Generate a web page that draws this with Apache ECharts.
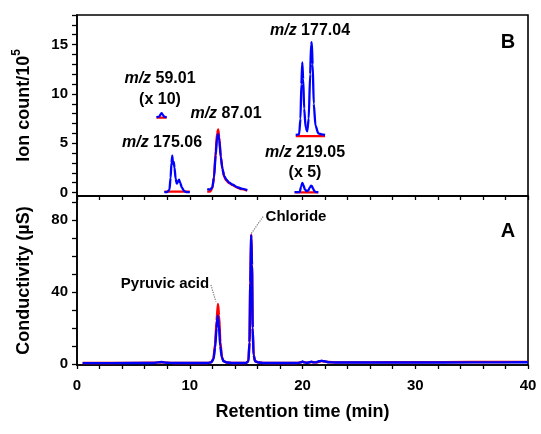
<!DOCTYPE html>
<html><head><meta charset="utf-8">
<script src="https://cdn.jsdelivr.net/npm/echarts@6/dist/echarts.min.js"></script>
<style>html,body{margin:0;padding:0;background:#fff}#c{width:541px;height:434px}</style>
</head><body><div id="c"></div>
<script>
// ---- Data ----
// Panel A: conductivity, blue trace
const condBlueT = [0.5, 3, 6.8, 7.2, 7.5, 7.7, 8.0, 8.6, 11.6, 11.9, 12.1, 12.25, 12.38, 12.48, 12.58, 12.7, 12.85, 13.0, 13.3, 13.8, 15.0, 15.2, 15.3, 15.37, 15.45, 15.52, 15.58, 15.66, 15.8, 16.1, 16.6, 19.6, 19.85, 20.0, 20.15, 20.4, 20.65, 20.8, 20.95, 21.2, 21.45, 21.7, 21.95, 22.3, 23, 26, 30, 35, 40];
const condBlueV = [0.5, 0.5, 0.6, 0.9, 1.1, 0.9, 0.7, 0.6, 0.6, 0.9, 2.5, 9, 20, 26.8, 22, 10, 3.5, 1.5, 0.8, 0.6, 0.6, 1.5, 12, 45, 71.5, 55, 20, 5, 1.5, 0.8, 0.6, 0.6, 0.9, 1.4, 0.9, 0.7, 1.0, 1.3, 0.9, 0.9, 1.5, 1.8, 1.5, 1.0, 0.8, 0.8, 0.8, 0.9, 1.0];
// Panel A: conductivity, red trace
const condRedT = [0.5, 3, 6.8, 7.2, 7.5, 7.7, 8.0, 8.6, 11.6, 11.9, 12.1, 12.25, 12.38, 12.5, 12.6, 12.72, 12.85, 13.0, 13.3, 13.8, 15.0, 15.2, 15.3, 15.37, 15.45, 15.52, 15.58, 15.66, 15.8, 16.1, 16.6, 19.6, 20.0, 20.4, 20.8, 21.2, 21.7, 22.3, 23, 26, 30, 35, 40];
const condRedV = [0.6, 0.6, 0.7, 0.9, 1.0, 0.9, 0.7, 0.6, 0.6, 1.0, 3.0, 11, 24, 33.3, 27, 12, 4, 1.6, 0.8, 0.6, 0.6, 1.5, 12, 46, 72, 55, 20, 5, 1.5, 0.8, 0.6, 0.6, 1.2, 0.7, 1.1, 0.9, 1.6, 1.1, 0.9, 0.9, 1.0, 1.1, 1.2];

// Panel B: extracted ion traces (ion count / 1e5, shown offset/scaled as in reference)
const mz59T = [7.05, 7.3, 7.42, 7.5, 7.6, 7.75, 7.95];
const mz59Blue = [7.65, 7.7, 7.95, 8.05, 7.9, 7.68, 7.65];
const mz59RedT = [7.05, 7.95];
const mz59Red = [7.6, 7.6];

const mz175T = [7.75, 8.0, 8.2, 8.3, 8.38, 8.45, 8.52, 8.58, 8.65, 8.75, 8.85, 8.95, 9.05, 9.15, 9.3, 9.5, 9.7, 10.0];
const mz175Blue = [0.05, 0.05, 0.3, 1.5, 3.0, 3.75, 2.9, 3.1, 2.5, 1.4, 0.9, 1.1, 1.3, 1.0, 0.5, 0.15, 0.05, 0.05];
const mz175RedT = [7.75, 10.0];
const mz175Red = [0.1, 0.1];

const mz87T = [11.55, 11.8, 12.0, 12.15, 12.3, 12.42, 12.52, 12.62, 12.75, 12.9, 13.05, 13.25, 13.5, 13.8, 14.2, 14.6, 15.1];
const mz87Blue = [0.35, 0.3, 0.5, 1.5, 3.8, 5.5, 5.95, 5.3, 3.6, 2.4, 1.7, 1.3, 1.0, 0.8, 0.55, 0.4, 0.25];
const mz87Red = [0.1, 0.1, 0.4, 1.6, 4.2, 6.0, 6.4, 5.6, 3.7, 2.4, 1.6, 1.2, 0.95, 0.75, 0.5, 0.35, 0.2];

const mz177T = [19.4, 19.7, 19.82, 19.9, 19.98, 20.06, 20.15, 20.28, 20.42, 20.55, 20.68, 20.76, 20.82, 20.9, 21.0, 21.15, 21.4, 21.7, 22.0];
const mz177Blue = [5.85, 5.9, 7.5, 11, 13.2, 11.5, 8.5, 6.6, 6.2, 7.5, 12, 15.0, 15.25, 13, 9, 6.8, 6.0, 5.9, 5.85];
const mz177RedT = [19.4, 22.0];
const mz177Red = [5.72, 5.72];

const mz219T = [19.3, 19.75, 19.88, 19.98, 20.08, 20.2, 20.35, 20.5, 20.65, 20.75, 20.82, 20.92, 21.05, 21.2, 21.4];
const mz219Blue = [0.05, 0.05, 0.6, 0.98, 0.75, 0.35, 0.15, 0.2, 0.5, 0.7, 0.68, 0.45, 0.15, 0.05, 0.05];
const mz219RedT = [19.3, 21.4];
const mz219Red = [0.02, 0.02];

// Axis ticks / labels
const xTicks = [0,2,4,6,8,10,12,14,16,18,20,22,24,26,28,30,32,34,36,38,40];
const xLabels = [0,10,20,30,40];
const ionTicks = [0,1,2,3,4,5,6,7,8,9,10,11,12,13,14,15,16,17,18];
const ionLabels = [0,5,10,15];
const condTicks = [0,10,20,30,40,50,60,70,80,90];
const condLabels = [0,40,80];

// ---- Chart ----
const FONT = 'Liberation Sans, Arial, sans-serif';
const zip = (t, v) => t.map((x, i) => [x, v[i]]);
const BLUE = '#0000ff', RED = '#ff0000';

function line(data, color, xi, yi, w, extra) {
  return Object.assign({
    type: 'line', data: data, xAxisIndex: xi, yAxisIndex: yi,
    showSymbol: false, symbol: 'none', smooth: 0.25, smoothMonotone: 'x',
    lineStyle: { color: color, width: w }, itemStyle: { color: color },
    silent: true, animation: false
  }, extra || {});
}

function xAxis(gi, showLabels) {
  return {
    type: 'value', gridIndex: gi, min: 0, max: 40,
    axisLine: { show: true, onZero: false, lineStyle: { color: '#000', width: 1.6 } },
    axisTick: { show: true, inside: false, length: 4, customValues: xTicks, lineStyle: { color: '#000', width: 1.3 } },
    axisLabel: { show: showLabels, customValues: xLabels, margin: 13, color: '#000', fontFamily: FONT, fontWeight: 'bold', fontSize: 15 },
    splitLine: { show: false },
    name: showLabels ? 'Retention time (min)' : '',
    nameLocation: 'middle', nameGap: 38,
    nameTextStyle: { color: '#000', fontFamily: FONT, fontWeight: 'bold', fontSize: 18 }
  };
}
function yAxis(gi, min, max, ticks, labels, name, rich) {
  return {
    type: 'value', gridIndex: gi, min: min, max: max,
    axisLine: { show: true, onZero: false, lineStyle: { color: '#000', width: 1.6 } },
    axisTick: { show: true, inside: false, length: 5, customValues: ticks, lineStyle: { color: '#000', width: 1.3 } },
    axisLabel: { customValues: labels, margin: 9, color: '#000', fontFamily: FONT, fontWeight: 'bold', fontSize: 15 },
    splitLine: { show: false },
    name: name, nameLocation: 'middle', nameGap: 44,
    nameTextStyle: Object.assign({ color: '#000', fontFamily: FONT, fontWeight: 'bold', fontSize: 18 }, rich ? { rich: rich } : {})
  };
}

function txt(x, y, text, size, rich) {
  const st = { x: x, y: y, text: text, fill: '#000', font: 'bold ' + size + 'px ' + FONT, align: 'center', verticalAlign: 'middle' };
  if (rich) st.rich = rich;
  return { type: 'text', style: st, silent: true, z: 100 };
}
const mzRich = {
  i: { fontStyle: 'italic', fontWeight: 'bold', fontSize: 16, fontFamily: FONT, fill: '#000' },
  n: { fontWeight: 'bold', fontSize: 16, fontFamily: FONT, fill: '#000' }
};

const chart = echarts.init(document.getElementById('c'), null, { renderer: 'canvas' });
chart.setOption({
  animation: false,
  backgroundColor: '#fff',
  grid: [
    { left: 77, top: 15, width: 451, height: 181, show: true, borderColor: '#000', borderWidth: 1.6, backgroundColor: 'transparent' },
    { left: 77, top: 196, width: 451, height: 169, show: true, borderColor: '#000', borderWidth: 1.6, backgroundColor: 'transparent' }
  ],
  xAxis: [xAxis(0, false), xAxis(1, true)],
  yAxis: [
    yAxis(0, -0.35, 18, ionTicks, ionLabels, '{a|Ion count/10}{s|5}', {
      a: { fontFamily: FONT, fontWeight: 'bold', fontSize: 18, lineHeight: 22, verticalAlign: 'bottom' },
      s: { fontFamily: FONT, fontWeight: 'bold', fontSize: 12, lineHeight: 22, verticalAlign: 'top', padding: [0, 0, 8, 0] }
    }),
    yAxis(1, -0.55, 93.3, condTicks, condLabels, 'Conductivity (\u00b5S)')
  ],
  series: [
    line(zip(condRedT, condRedV), RED, 1, 1, 2.4),
    line(zip(condBlueT, condBlueV), BLUE, 1, 1, 2.4, {
      markLine: {
        silent: true, symbol: 'none', label: { show: false },
        lineStyle: { type: 'dotted', color: '#777', width: 1.2 },
        data: [
          [{ coord: [11.88, 43.9] }, { coord: [12.32, 34.6] }],
          [{ coord: [15.47, 72.6] }, { coord: [16.5, 81.8] }]
        ]
      }
    }),
    line(zip(mz59RedT, mz59Red), RED, 0, 0, 2.3),
    line(zip(mz59T, mz59Blue), BLUE, 0, 0, 2.3),
    line(zip(mz175RedT, mz175Red), RED, 0, 0, 2.3),
    line(zip(mz175T, mz175Blue), BLUE, 0, 0, 2.3),
    line(zip(mz87T, mz87Red), RED, 0, 0, 2.3),
    line(zip(mz87T, mz87Blue), BLUE, 0, 0, 2.3),
    line(zip(mz177RedT, mz177Red), RED, 0, 0, 2.3),
    line(zip(mz177T, mz177Blue), BLUE, 0, 0, 2.3),
    line(zip(mz219RedT, mz219Red), RED, 0, 0, 2.3),
    line(zip(mz219T, mz219Blue), BLUE, 0, 0, 2.3)
  ],
  graphic: [
    txt(160, 79, '{i|m/z}{n| 59.01}', 16, mzRich),
    txt(160, 100, '(x 10)', 16),
    txt(162, 143, '{i|m/z}{n| 175.06}', 16, mzRich),
    txt(226, 114, '{i|m/z}{n| 87.01}', 16, mzRich),
    txt(310, 31, '{i|m/z}{n| 177.04}', 16, mzRich),
    txt(305, 153, '{i|m/z}{n| 219.05}', 16, mzRich),
    txt(305, 173, '(x 5)', 16),
    txt(508, 42, 'B', 20),
    txt(508, 231, 'A', 20),
    txt(296, 217, 'Chloride', 15),
    txt(165, 284, 'Pyruvic acid', 15)
  ]
});
</script></body></html>
